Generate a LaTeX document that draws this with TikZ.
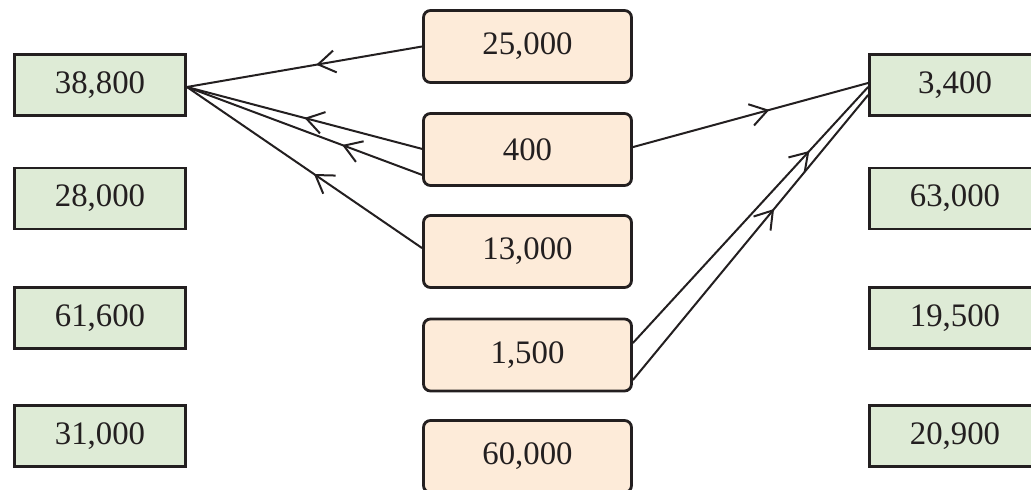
\documentclass[tikz,border=0pt]{standalone}
\usepackage{fontspec}
\setmainfont{Liberation Serif}
\usetikzlibrary{arrows.meta,decorations.markings}
\definecolor{greenfill}{RGB}{222,235,214}
\definecolor{orangefill}{RGB}{253,235,217}
\definecolor{inkline}{RGB}{35,31,32}
\tikzset{
  gbox/.style={draw=inkline,fill=greenfill,line width=1.4pt,minimum width=85.5pt,minimum height=30.5pt,inner sep=0pt,font=\fontsize{16.4}{19}\selectfont,text=inkline},
  obox/.style={draw=inkline,fill=orangefill,line width=1.4pt,rounded corners=3.5pt,minimum width=104pt,minimum height=36pt,inner sep=0pt,font=\fontsize{16.4}{19}\selectfont,text=inkline},
  conn/.style={draw=inkline,line width=1pt,postaction={decorate},
    decoration={markings,mark=at position #1 with {\arrow{Straight Barb[length=8.5pt,width=11pt,line width=1pt]}}}}
}
\begin{document}
\begin{tikzpicture}[x=0.5pt,y=-0.5pt]
\useasboundingbox (0,0) rectangle (1031,490);
% left boxes
\node[gbox] (l1) at (100,85) {38,800};
\node[gbox] (l2) at (100,198.5) {28,000};
\node[gbox] (l3) at (100,318) {61,600};
\node[gbox] (l4) at (100,436) {31,000};
% right boxes
\node[gbox] (r1) at (955,85) {3,400};
\node[gbox] (r2) at (955,198.5) {63,000};
\node[gbox] (r3) at (955,318) {19,500};
\node[gbox] (r4) at (955,436) {20,900};
% middle boxes
\node[obox] (m1) at (527.5,46.5) {25,000};
\node[obox] (m2) at (527.5,149.5) {400};
\node[obox] (m3) at (527.5,251.5) {13,000};
\node[obox] (m4) at (527.5,355) {1,500};
\node[obox] (m5) at (527.5,456.5) {60,000};
% connectors to 38,800
\draw[conn=0.45] (m1.west) -- ([yshift=-1pt]l1.east);
\draw[conn=0.5] ([yshift=0.3pt]m2.west) -- ([yshift=-1pt]l1.east);
\draw[conn=0.34] ([yshift=-12.7pt]m2.west) -- ([yshift=-1pt]l1.east);
\draw[conn=0.46] ([yshift=1.7pt]m3.west) -- ([yshift=-1pt]l1.east);
% connectors to 3,400
\draw[conn=0.58] ([yshift=1.2pt]m2.east) -- ([yshift=1pt]r1.west);
\draw[conn=0.75] ([yshift=6pt]m4.east) -- ([yshift=-1pt]r1.west);
\draw[conn=0.6] ([yshift=-12.5pt]m4.east) -- ([yshift=-5pt]r1.west);
\end{tikzpicture}
\end{document}
